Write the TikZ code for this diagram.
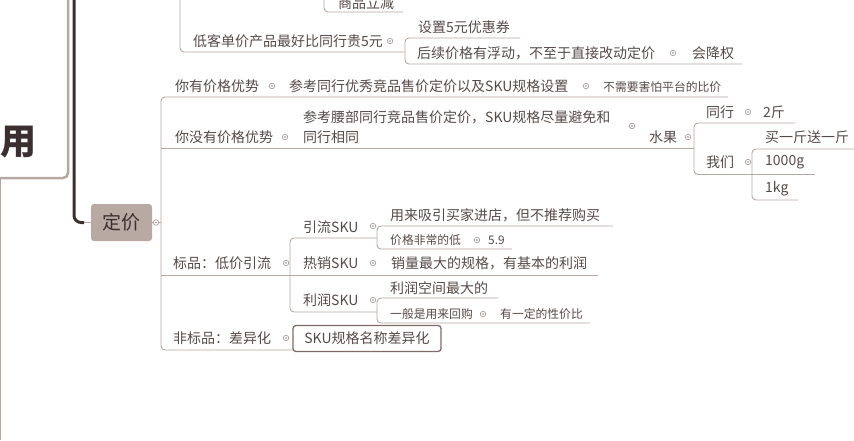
\documentclass[tikz,border=0pt]{standalone}
\usepackage{fontspec}
\setmainfont{Noto Sans CJK SC}
\usetikzlibrary{positioning}

\definecolor{txtc}{HTML}{554A48}
\definecolor{linec}{HTML}{B5A8A2}
\definecolor{darkc}{HTML}{3B2F2F}
\definecolor{pricec}{HTML}{B8A9A3}
\definecolor{boxc}{HTML}{7C6C68}

\begin{document}
\begin{tikzpicture}[x=1pt,y=-1pt]
  \tikzstyle{topic}=[inner sep=0pt,anchor=west,text=txtc,font=\fontsize{14}{20}\selectfont]
  \tikzstyle{note}=[topic,font=\fontsize{11.8}{14}\selectfont]
  \tikzstyle{link}=[draw=linec,line width=0.9pt,rounded corners=4pt]
  \tikzstyle{knob}=[circle,draw=linec!80!black,line width=0.5pt,inner sep=0pt,minimum size=5.5pt,
    path picture={\fill[linec!80!black] (path picture bounding box.center) circle (0.8pt);}]
  \useasboundingbox (0,0) rectangle (854,440);
  \clip (0,0) rectangle (854,440);

  % left part
  \draw[linec,line width=2.5pt,rounded corners=5pt] (-20,-20) rectangle (68,178);
  \node[text=darkc,font=\fontsize{36}{36}\selectfont\bfseries] (yong) at (19,142) {用};
  \coordinate (edge) at (0.5,178);
  \draw[linec,line width=1pt] (edge) -- (edge |- 0,440);
  \node[fill=pricec,rounded corners=3pt,minimum width=61pt,minimum height=37pt,text=darkc,
    font=\fontsize{19}{19}\selectfont] (price) at (121.5,222.5) {定价};
  \coordinate (root) at (74,-10);
  \coordinate (bend) at (84,222.5);
  \draw[darkc,line width=3pt,rounded corners=7pt] (root) |- (bend);
  \draw[linec,line width=1pt] (bend) -- (price.west);

  % top, cut by the page
  \coordinate (up1) at (324,-10);
  \coordinate (spE) at (403,12);
  \draw[link] (up1) |- (spE);
  \node[topic] (shangpin) at (338,3) {商品立减};
  \coordinate (up2) at (180,-10);
  \coordinate (dkE) at (405,52);
  \draw[link] (up2) |- (dkE);
  \node[topic] (dikedan) at (193,41) {低客单价产品最好比同行贵5元};
  \node[knob] (kdk) at (390,41) {};
  \coordinate (qE) at (520,38);
  \coordinate (fdE) at (742,64);
  \draw[link] (qE) -- (qE -| dkE) |- (fdE);
  \node[topic] (quan) at (418,27) {设置5元优惠券};
  \node[topic] (fudong) at (417,53) {后续价格有浮动，不至于直接改动定价};
  \node[knob] (kfd) at (673,53) {};
  \node[topic] (jiangquan) at (692,53) {会降权};

  % trunk
  \coordinate (tr) at (161,222.5);
  \coordinate (advE) at (728,97);
  \coordinate (fbE) at (293,350);
  \draw[link] (advE) -- (advE -| tr) |- (fbE);
  \draw[link] (price.east) -- (tr);
  \node[knob,fill=white] (kprice) at (156,222.5) {};

  \node[topic] (adv) at (175,86) {你有价格优势};
  \node[knob] (kadv) at (272,86) {};
  \node[topic] (ref) at (289,86) {参考同行优秀竞品售价定价以及SKU规格设置};
  \node[knob] (kref) at (586,86) {};
  \node[note] (nofear) at (603,87) {不需要害怕平台的比价};

  \coordinate (fruitJ) at (694,148);
  \draw[link] (fruitJ -| tr) -- (fruitJ);
  \node[topic] (noadv) at (175,137) {你没有价格优势};
  \node[knob] (knoadv) at (285,137) {};
  \node[topic,align=left] (waist) at (303,127) {参考腰部同行竞品售价定价，SKU规格尽量避免和\\同行相同};
  \node[knob] (kwaist) at (632,126) {};
  \node[topic] (fruit) at (649,137) {水果};
  \node[knob] (kfruit) at (688,137) {};

  \coordinate (txE) at (795,123);
  \coordinate (wmJ) at (752,174.5);
  \draw[link] (txE) -- (txE -| fruitJ) |- (wmJ);
  \node[topic] (tx) at (706,112) {同行};
  \node[knob] (ktx) at (748,112) {};
  \node[topic] (jin) at (763,112) {2斤};
  \node[topic] (wm) at (706,162) {我们};
  \node[knob] (kwm) at (748,162) {};
  \coordinate (mE) at (855,149);
  \coordinate (kgE) at (798,200);
  \coordinate (gE) at (815,174.5);
  \draw[link] (mE) -- (mE -| wmJ) |- (kgE);
  \draw[link] (wmJ) -- (gE);
  \node[topic] (buy) at (765,137) {买一斤送一斤};
  \node[topic] (g) at (765,162) {1000g};
  \node[topic] (kg) at (765,189) {1kg};

  % standard goods
  \coordinate (bpJ) at (290,275);
  \coordinate (rxE) at (598,275);
  \draw[link] (rxE -| tr) -- (rxE);
  \coordinate (ylJ) at (377,238);
  \coordinate (lrJ) at (377,312);
  \draw[link] (ylJ) -- (ylJ -| bpJ) |- (lrJ);
  \node[topic] (bp) at (173,263) {标品：低价引流};
  \node[knob] (kbp) at (286,263) {};

  \coordinate (xjE) at (613,226);
  \coordinate (dE) at (512,249);
  \draw[link] (xjE) -- (xjE -| ylJ) |- (dE);
  \node[topic] (yl) at (303,227) {引流SKU};
  \node[knob] (kyl) at (373,226) {};
  \node[topic] (xj) at (390,215) {用来吸引买家进店，但不推荐购买};
  \node[note] (low) at (390,240) {价格非常的低};
  \node[knob] (klow) at (477,240) {};
  \node[note] (p59) at (488,240) {5.9};

  \node[topic] (rx) at (303,263) {热销SKU};
  \node[knob] (krx) at (373,263) {};
  \node[topic] (xl) at (391,263) {销量最大的规格，有基本的利润};

  \coordinate (kjE) at (498,298);
  \coordinate (hgE) at (590,323);
  \draw[link] (kjE) -- (kjE -| lrJ) |- (hgE);
  \node[topic] (lr) at (303,300) {利润SKU};
  \node[knob] (klr) at (373,300) {};
  \node[topic] (kj) at (390,288) {利润空间最大的};
  \node[note] (hg) at (390,314) {一般是用来回购};
  \node[knob] (khg) at (483,314) {};
  \node[note] (xjb) at (500,314) {有一定的性价比};

  % non-standard goods
  \node[topic] (fb) at (173,338) {非标品：差异化};
  \node[knob] (kfb) at (286,338) {};
  \node[draw=boxc,line width=1.3pt,rounded corners=3pt,minimum width=148pt,minimum height=26pt,
    text=txtc,font=\fontsize{14}{20}\selectfont] (sku) at (367,338.5) {SKU规格名称差异化};
\end{tikzpicture}
\end{document}
